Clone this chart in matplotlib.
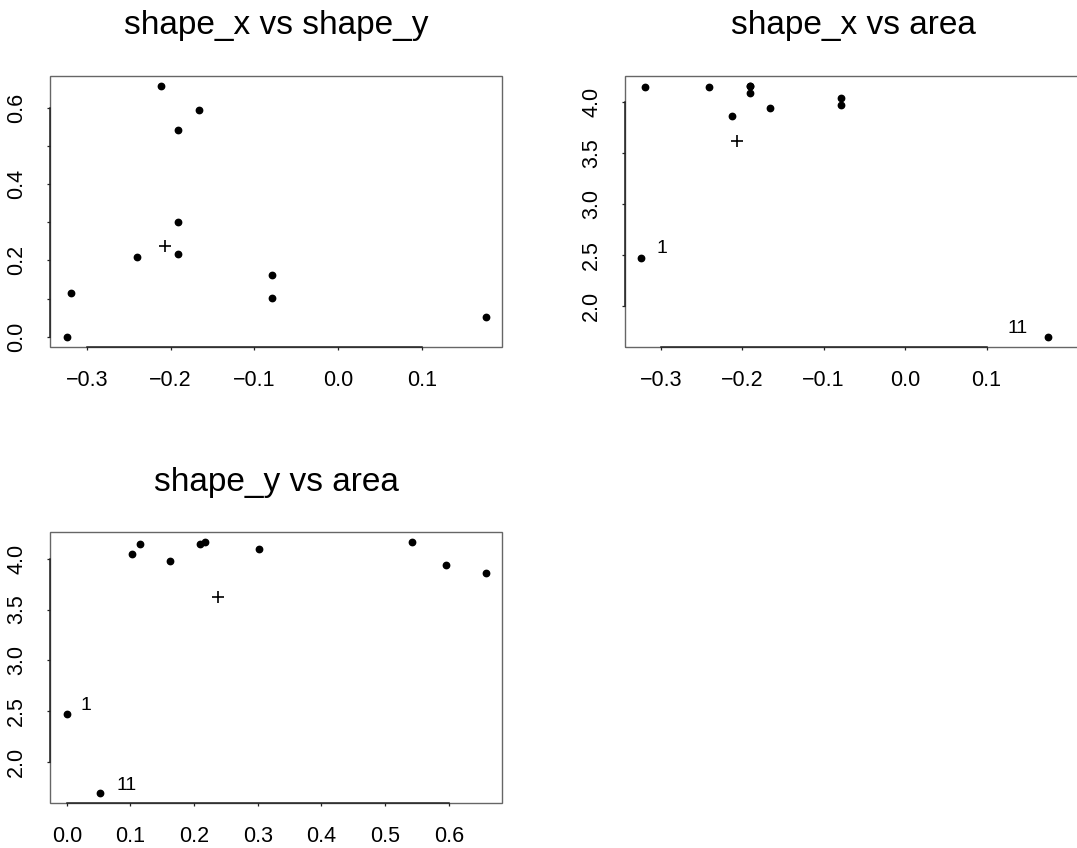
#!/usr/bin/env python3
from __future__ import annotations

import matplotlib

matplotlib.use("Agg")
import matplotlib.pyplot as plt
from matplotlib.patches import Rectangle

plt.rcParams["font.family"] = ["Liberation Sans", "DejaVu Sans"]

# eleven observations (point 1 first, point 11 last)
shape_x = [-0.324, -0.3195, -0.2406, -0.212, -0.191, -0.191, -0.191, -0.1665, -0.0793, -0.0793, 0.176]
shape_y = [0.0, 0.1153, 0.2096, 0.6576, 0.5424, 0.3013, 0.2175, 0.5948, 0.1624, 0.1022, 0.0524]
area = [2.473, 4.147, 4.147, 3.862, 4.160, 4.093, 4.160, 3.941, 3.978, 4.041, 1.702]
point_ids = ["1", "", "", "", "", "", "", "", "", "", "11"]

# the "+" reference point
ref_x = -0.2063
ref_y = 0.238
ref_area = 3.619

shape_x_ticks = [-0.3, -0.2, -0.1, 0.0, 0.1]
shape_y_ticks = [0.0, 0.1, 0.2, 0.3, 0.4, 0.5, 0.6]
shape_y_labels = ["0.0", "", "0.2", "", "0.4", "", "0.6"]
shape_y_xticks = [0.0, 0.1, 0.2, 0.3, 0.4, 0.5, 0.6]
area_ticks = [2.0, 2.5, 3.0, 3.5, 4.0]

W, H = 1077, 848


def _rect(left, top, right, bottom):
    return [left / W, 1 - bottom / H, (right - left) / W, (bottom - top) / H]


def _r_range(values, pad=0.04):
    lo, hi = min(values), max(values)
    span = hi - lo
    return lo - span * pad, hi + span * pad


def _r_frame(ax, xticks, yticks, xlabels=None, ylabels=None):
    for side in ("top", "right"):
        ax.spines[side].set_visible(False)
    for side in ("left", "bottom"):
        ax.spines[side].set_color("#222222")
        ax.spines[side].set_linewidth(1.1)
    ax.spines["left"].set_bounds(yticks[0], yticks[-1])
    ax.spines["bottom"].set_bounds(xticks[0], xticks[-1])
    ax.add_patch(Rectangle((0, 0), 1, 1, transform=ax.transAxes, fill=False,
                           edgecolor="#666666", linewidth=1.0, clip_on=False, zorder=0))
    ax.set_xticks(xticks)
    ax.set_yticks(yticks)
    ax.set_xticklabels(xlabels if xlabels else [f"{t:.1f}".replace("-", "\u2212") for t in xticks])
    ax.set_yticklabels(ylabels if ylabels else [f"{t:.1f}" for t in yticks])
    ax.tick_params(direction="out", length=2.5, width=0.9, pad=14, labelsize=15.5, color="#222222")
    for lbl in ax.get_yticklabels():
        lbl.set_rotation(90)
        lbl.set_va("center")


def _scatter(ax, xs, ys, rx, ry, title, label_offsets):
    ax.plot(xs, ys, "o", color="black", markersize=4.6, linestyle="none")
    ax.plot([rx], [ry], "+", color="black", markersize=8, markeredgewidth=1.2)
    for x, y, pid in zip(xs, ys, point_ids):
        if pid and pid in label_offsets:
            ax.annotate(pid, (x, y), xytext=label_offsets[pid], textcoords="offset points",
                        ha="center", va="center", fontsize=14)
    ax.set_title(title, fontsize=24, pad=30)


def main() -> int:
    fig = plt.figure(figsize=(W / 100, H / 100), dpi=100)

    ax1 = fig.add_axes(_rect(50, 75.7, 502.3, 346.7))
    _scatter(ax1, shape_x, shape_y, ref_x, ref_y, "shape_x vs shape_y", {})
    ax1.set_xlim(*_r_range(shape_x))
    ax1.set_ylim(*_r_range(shape_y))
    _r_frame(ax1, shape_x_ticks, shape_y_ticks, ylabels=shape_y_labels)

    ax2 = fig.add_axes(_rect(625, 76, 1081, 346.7))
    _scatter(ax2, shape_x, area, ref_x, ref_area, "shape_x vs area",
             {"1": (15, 7), "11": (-22, 6)})
    xlo, xhi = _r_range(shape_x)
    ax2.set_xlim(xlo, xhi + 0.02)
    ax2.set_ylim(*_r_range(area))
    _r_frame(ax2, shape_x_ticks, area_ticks)

    ax3 = fig.add_axes(_rect(50, 532.3, 502.3, 802.7))
    _scatter(ax3, shape_y, area, ref_y, ref_area, "shape_y vs area",
             {"1": (13.5, 6.3), "11": (19, 5.5)})
    ax3.set_xlim(*_r_range(shape_y))
    ax3.set_ylim(*_r_range(area))
    _r_frame(ax3, shape_y_xticks, area_ticks)

    fig.savefig("out.png", dpi=100, facecolor="white")
    plt.close(fig)
    return 0


if __name__ == "__main__":
    raise SystemExit(main())
